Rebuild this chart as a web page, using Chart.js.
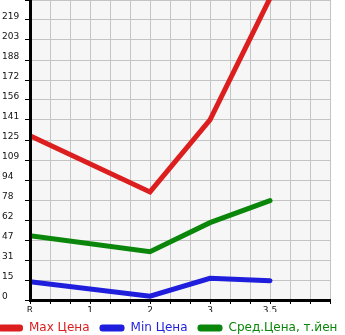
<!DOCTYPE html>
<html>
<head>
<meta charset="utf-8">
<script src="https://cdn.jsdelivr.net/npm/chart.js@4.4.0/dist/chart.umd.min.js"></script>
<style>
  html, body { margin: 0; padding: 0; background: #fff; overflow: hidden; }
  body { width: 345px; height: 335px; position: relative; }
  #wrap { position: absolute; left: -12px; top: 0; width: 377px; height: 344px; }
</style>
</head>
<body>
<div id="wrap"><canvas id="chart"></canvas></div>
<script>
const xLabels = ['R', '1', '2', '3', '3,5'];
const yLabels = ['0', '15', '31', '47', '62', '78', '94', '109', '125', '141', '156', '172', '188', '203', '219'];
const yMax = 234.6;

// prices per model year, null where there is no data
const maxPrice = [128.5, null, 84.5, 140.8, 236];
const minPrice = [14.3, null, 3.0, 17.0, 15.1];
const avgPrice = [50.3, null, 37.8, 60.5, 77.7];

const seriesNames = ['Max Цена', 'Min Цена', 'Сред.Цена, т.йен'];
const seriesColors = ['#dc1e1e', '#1e1edc', '#0a870a'];

const toPoints = arr => arr.map((v, i) => ({ x: i, y: v }));

// grey plot background
const plotBg = {
  id: 'plotBg',
  beforeDraw(chart) {
    const { ctx, chartArea: a } = chart;
    ctx.save();
    ctx.fillStyle = '#f6f6f6';
    ctx.fillRect(a.left, a.top, a.right - a.left, a.bottom - a.top);
    ctx.restore();
  }
};

const noPad = s => {
  s.paddingTop = 0;
  s.paddingBottom = 0;
  s.paddingLeft = 0;
  s.paddingRight = 0;
};

const tickFont = { family: 'DejaVu Sans', size: 9 };

new Chart(document.getElementById('chart'), {
  type: 'line',
  data: {
    datasets: [maxPrice, minPrice, avgPrice].map((arr, i) => ({
      label: seriesNames[i],
      data: toPoints(arr),
      borderColor: seriesColors[i],
      backgroundColor: seriesColors[i],
      borderWidth: 5,
      borderCapStyle: 'round',
      pointRadius: 0,
      spanGaps: true,
      tension: 0
    }))
  },
  options: {
    responsive: true,
    maintainAspectRatio: false,
    devicePixelRatio: 1,
    animation: false,
    plugins: {
      tooltip: { enabled: false },
      legend: {
        position: 'bottom',
        align: 'start',
        labels: {
          boxWidth: 25,
          boxHeight: 7,
          padding: 10,
          useBorderRadius: true,
          borderRadius: 3,
          font: { family: 'DejaVu Sans', size: 12 },
          generateLabels: chart => chart.data.datasets.map((ds, i) => ({
            text: ds.label,
            fillStyle: ds.borderColor,
            strokeStyle: ds.borderColor,
            fontColor: ds.borderColor,
            lineWidth: 0,
            borderRadius: 3,
            hidden: false,
            datasetIndex: i
          }))
        }
      }
    },
    scales: {
      x: {
        type: 'linear',
        min: 0,
        max: 5,
        afterBuildTicks: s => {
          s.ticks = Array.from({ length: 16 }, (_, i) => ({ value: i / 3 }));
        },
        afterFit: s => { s.height = 12; noPad(s); },
        ticks: {
          autoSkip: false,
          maxRotation: 0,
          padding: 1,
          color: '#111',
          font: tickFont,
          callback: (v, i) => (i % 3 === 0 && i / 3 < xLabels.length) ? xLabels[i / 3] : ''
        },
        grid: { color: '#c4c4c4', tickColor: '#000', tickLength: 4 },
        border: { color: '#000', width: 3, z: 1 }
      },
      y: {
        type: 'linear',
        position: 'left',
        min: 0,
        max: yMax,
        afterBuildTicks: s => {
          s.ticks = Array.from({ length: 16 }, (_, i) => ({ value: i * yMax / 15 }));
        },
        afterFit: s => { s.width = 28; noPad(s); },
        ticks: {
          autoSkip: false,
          crossAlign: 'far',
          labelOffset: -3,
          color: '#111',
          font: tickFont,
          callback: (v, i) => yLabels[i] !== undefined ? yLabels[i] : ''
        },
        grid: { color: '#c4c4c4', tickColor: '#000', tickLength: 5 },
        border: { color: '#000', width: 3, z: 1 }
      },
      // empty axes that only reserve space on the sides
      padLeft: {
        type: 'linear',
        position: 'left',
        weight: 1,
        afterFit: s => { s.width = 14; noPad(s); },
        ticks: { display: false },
        grid: { display: false },
        border: { display: false }
      },
      padRight: {
        type: 'linear',
        position: 'right',
        afterFit: s => { s.width = 35; noPad(s); },
        ticks: { display: false },
        grid: { display: false },
        border: { display: false }
      }
    }
  },
  plugins: [plotBg]
});
</script>
</body>
</html>
